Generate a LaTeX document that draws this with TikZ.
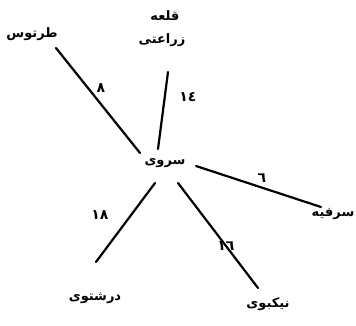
\documentclass[tikz,border=0pt]{standalone}
\usepackage{fontspec}
\newfontfamily\arabicfont[Script=Arabic]{DejaVu Sans}
\TeXXeTstate=1
\begin{document}
\begin{tikzpicture}[x=1pt,y=-1pt,
  city/.style={font=\arabicfont\bfseries\fontsize{13}{14}\selectfont, inner sep=2pt},
  num/.style={font=\arabicfont\bfseries\fontsize{14}{15}\selectfont, inner sep=1pt},
  edge/.style={line width=2.2pt, line cap=round}]
\useasboundingbox (0,0) rectangle (356,326);
\node[city] (c) at (165,163) {\beginR سروی\endR};
\node[city] (t) at (32,34) {\beginR طرتوس\endR};
\node[city] (q1) at (165,16) {\beginR قلعه\endR};
\node[city] (q2) at (162,40) {\beginR زراعتی\endR};
\node[city] (s) at (333,214) {\beginR سرفیه\endR};
\node[city] (d) at (95,298) {\beginR درشتوی\endR};
\node[city] (n) at (268,304) {\beginR نیکبوی\endR};
\coordinate (ct) at (140,153);
\coordinate (cq) at (158,149);
\coordinate (cs) at (196,166);
\coordinate (cd) at (155,183);
\coordinate (cn) at (178,183);
\coordinate (et) at (56,48);
\coordinate (eq) at (168,72);
\coordinate (es) at (321,207);
\coordinate (ed) at (96,262);
\coordinate (en) at (258,288);
\draw[edge] (ct) -- (et);
\draw[edge] (cq) -- (eq);
\draw[edge] (cs) -- (es);
\draw[edge] (cd) -- (ed);
\draw[edge] (cn) -- (en);
\node[num] (l1) at (101,88) {٨};
\node[num] (l2) at (188,97) {\beginR ١٤\endR};
\node[num] (l3) at (262,178) {٦};
\node[num] (l4) at (100,215) {\beginR ١٨\endR};
\node[num] (l5) at (226,246) {\beginR ١٦\endR};
\end{tikzpicture}
\end{document}
